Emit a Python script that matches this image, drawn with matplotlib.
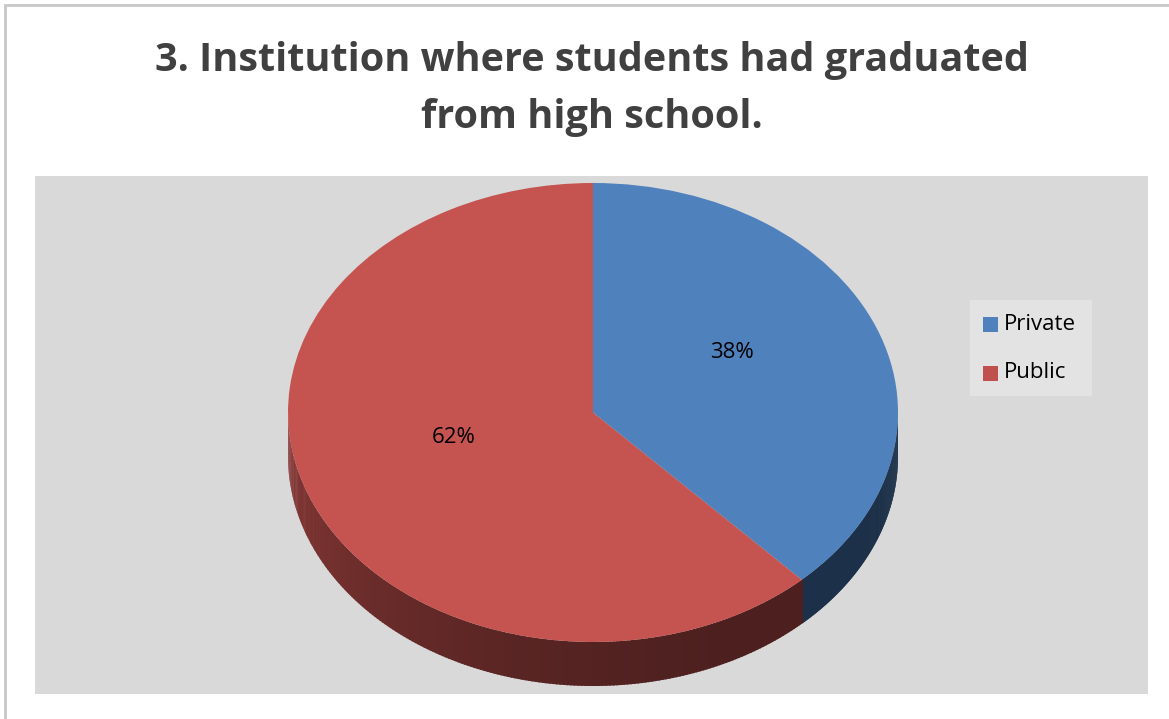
import numpy as np
import matplotlib
matplotlib.use("Agg")
import matplotlib.pyplot as plt
from matplotlib.patches import Rectangle, Polygon

# Survey answers
categories = ["Private", "Public"]
shares = [38, 62]
slice_colors = ["#4f81bd", "#c0504d"]
title_text = "3. Institution where students had graduated\nfrom high school."

W, H, DPI = 1169, 719, 100
fig = plt.figure(figsize=(W / DPI, H / DPI), dpi=DPI)
fig.patch.set_facecolor("white")

# Pixel-space overlay for the frame, plot area and text
bg = fig.add_axes([0, 0, 1, 1])
bg.set_xlim(0, W)
bg.set_ylim(H, 0)
bg.axis("off")
bg.add_patch(Rectangle((5, 5), W + 20, H + 20, facecolor="white",
                       edgecolor="#c8c8c8", lw=2))
bg.add_patch(Rectangle((35, 176), 1113, 518, facecolor="#d9d9d9",
                       edgecolor="none"))

FONT = ["Open Sans", "DejaVu Sans"]
bg.text(592, 89, title_text, ha="center", va="center", fontsize=28.5,
        fontweight="bold", color="#404040", family=FONT, linespacing=1.61)

# Pie axes: unit circle stretched into the ellipse of the top face
cx, cy, rx, ry = 593, 412.5, 305, 229.5
depth = 44 / ry
ax = fig.add_axes([(cx - rx) / W, 1 - (cy + ry + depth * ry) / H,
                   2 * rx / W, (2 * ry + depth * ry) / H])

fractions = np.array(shares, dtype=float) / sum(shares)
start = 90.0
bounds = []
for f in fractions:
    end = start - 360 * f
    bounds.append((start, end))
    start = end


def wall_color(theta_deg, base):
    # darker toward the front-right, lighter toward the left edge
    t = np.clip((-theta_deg - 60) / 120, 0, 1)
    base = np.array(matplotlib.colors.to_rgb(base))
    dark = base * 0.40
    light = base * 0.72
    return dark + (light - dark) * t ** 1.6


wall_bases = {"Private": "#1c3149", "Public": "#c0504d"}
for name, (a0, a1) in zip(categories, bounds):
    lo, hi = min(a0, a1), max(a0, a1)
    lo, hi = max(lo, -180.0), min(hi, 0.0)
    if lo >= hi:
        continue
    ts = np.linspace(lo, hi, 200)
    for t0, t1 in zip(ts[:-1], ts[1:]):
        r0, r1 = np.radians(t0), np.radians(t1 + 0.3)
        pts = [(np.cos(r0), np.sin(r0)), (np.cos(r1), np.sin(r1)),
               (np.cos(r1), np.sin(r1) - depth), (np.cos(r0), np.sin(r0) - depth)]
        if name == "Private":
            col = np.array(matplotlib.colors.to_rgb(wall_bases[name]))
        else:
            col = wall_color(0.5 * (t0 + t1), wall_bases[name])
        ax.add_patch(Polygon(pts, closed=True, facecolor=col, edgecolor="none"))

wedges, _ = ax.pie(shares, colors=slice_colors, startangle=90,
                   counterclock=False, radius=1, center=(0, 0),
                   wedgeprops=dict(linewidth=0), frame=True)
ax.set_xlim(-1, 1)
ax.set_ylim(-1 - depth, 1)
ax.set_aspect("auto")
ax.axis("off")
wedges[1].set_facecolor("#c5534f")

# Percentage labels at mid-angle of each slice
for (a0, a1), val in zip(bounds, shares):
    mid = np.radians(0.5 * (a0 + a1))
    ax.text(0.49 * np.cos(mid), 0.5 * np.sin(mid) + 0.076,
            f"{val}%", ha="center", va="center", fontsize=16,
            color="black", family=FONT)

# Legend
bg.add_patch(Rectangle((970, 300), 122, 96, facecolor="#e3e3e3",
                       edgecolor="none"))
for i, (name, col) in enumerate(zip(categories, slice_colors)):
    y = 324 + i * 49
    bg.add_patch(Rectangle((983, y - 7), 15, 15, facecolor=col,
                           edgecolor="none"))
    bg.text(1004, y, name, ha="left", va="center", fontsize=16,
            color="black", family=FONT)

fig.savefig("out.png", dpi=DPI)
